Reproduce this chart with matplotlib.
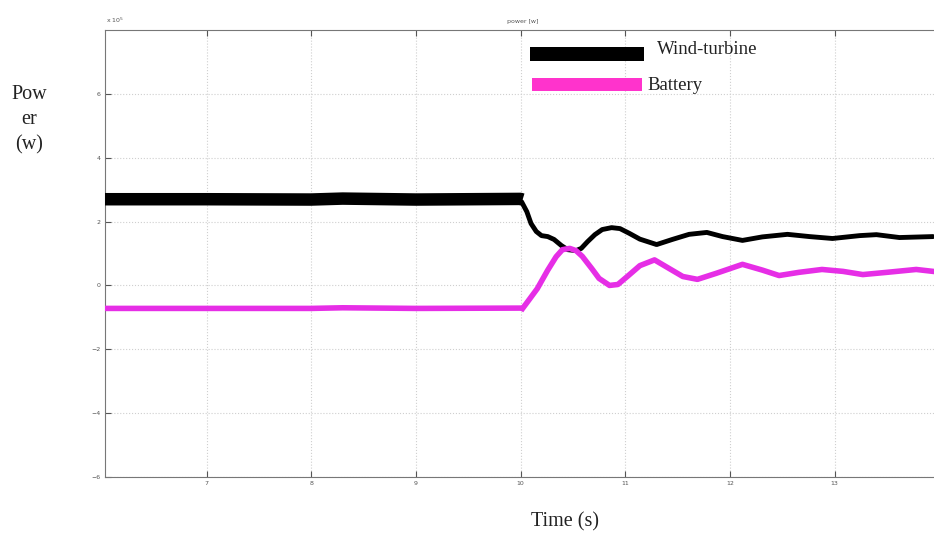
import matplotlib.pyplot as plt
import matplotlib.patches as mpatches

# Wind-turbine power (x1e5 W)
wind_steady_t = [6.03, 7.0, 8.0, 8.3, 9.0, 10.0, 10.02]
wind_steady_p = [2.70, 2.70, 2.69, 2.72, 2.69, 2.71, 2.69]
wind_t = [10.01, 10.06, 10.10, 10.15, 10.20, 10.26, 10.32, 10.39, 10.45, 10.53, 10.58,
          10.64, 10.71, 10.78, 10.87, 10.95, 11.04, 11.14, 11.30, 11.45, 11.61, 11.78,
          11.93, 12.12, 12.31, 12.55, 12.76, 12.98, 13.24, 13.40, 13.62, 13.94]
wind_p = [2.62, 2.31, 1.94, 1.69, 1.56, 1.53, 1.44, 1.25, 1.12, 1.09, 1.16,
          1.37, 1.59, 1.75, 1.81, 1.78, 1.63, 1.45, 1.28, 1.44, 1.60, 1.66,
          1.53, 1.41, 1.52, 1.60, 1.53, 1.47, 1.56, 1.59, 1.50, 1.53]

# Battery power (x1e5 W)
batt_steady_t = [6.03, 7.0, 8.0, 8.3, 9.0, 10.0, 10.03]
batt_steady_p = [-0.72, -0.72, -0.72, -0.70, -0.72, -0.71, -0.72]
batt_t = [10.02, 10.07, 10.16, 10.26, 10.34, 10.40, 10.47, 10.53, 10.59, 10.68, 10.75,
          10.85, 10.93, 11.02, 11.14, 11.28, 11.42, 11.55, 11.69, 11.87, 12.12, 12.31,
          12.47, 12.66, 12.88, 13.08, 13.27, 13.50, 13.78, 13.94]
batt_p = [-0.72, -0.50, -0.10, 0.48, 0.90, 1.12, 1.16, 1.09, 0.91, 0.53, 0.22,
          0.00, 0.03, 0.28, 0.62, 0.80, 0.53, 0.28, 0.19, 0.38, 0.66, 0.48,
          0.31, 0.41, 0.50, 0.44, 0.34, 0.41, 0.50, 0.44]

x_ticks = [7, 8, 9, 10, 11, 12, 13]
y_ticks = [-6, -4, -2, 0, 2, 4, 6]

W, H = 934, 533
fig = plt.figure(figsize=(W / 100, H / 100), dpi=100)
ax = fig.add_axes([105 / W, 1 - 477 / H, 1 - 105 / W, (477 - 30) / H])

magenta = '#e62ee6'
ax.plot(wind_steady_t, wind_steady_p, color='k', linewidth=9, solid_capstyle='butt', zorder=3)
ax.plot(wind_t, wind_p, color='k', linewidth=3.5, solid_joinstyle='round',
        solid_capstyle='round', zorder=3)
ax.plot(batt_steady_t, batt_steady_p, color=magenta, linewidth=4, solid_capstyle='butt', zorder=4)
ax.plot(batt_t, batt_p, color=magenta, linewidth=4, solid_joinstyle='round', zorder=4)

ax.set_xlim(6.03, 13.95)
ax.set_ylim(-6, 8)
ax.set_xticks(x_ticks)
ax.set_yticks(y_ticks)
ax.tick_params(direction='in', length=4, width=0.8, labelsize=4.5, colors='#555555',
               top=True, right=False, pad=3)
ax.grid(True, linestyle=':', color='#cfcfcf', linewidth=0.8)
for side in ['left', 'bottom', 'top']:
    ax.spines[side].set_color('#777777')
ax.spines['right'].set_visible(False)

# small matlab-like annotations
fig.text(106 / W, 1 - 20 / H, r'x 10$^5$', fontsize=4.5, color='#555555', ha='left', va='center')
fig.text(523 / W, 1 - 21 / H, 'power [w]', fontsize=4.5, color='#555555', ha='center', va='center')

# legend drawn by hand like the reference
fig.patches.append(mpatches.Rectangle((530 / W, 1 - 61 / H), 114 / W, 14 / H,
                                      facecolor='k', edgecolor='none', transform=fig.transFigure))
fig.patches.append(mpatches.Rectangle((532 / W, 1 - 91 / H), 110 / W, 13 / H,
                                      facecolor='#ff33cc', edgecolor='none', transform=fig.transFigure))
fig.text(657 / W, 1 - 50 / H, 'Wind-turbine', family='Liberation Serif', fontsize=13.5,
         color='#222222', ha='left', va='center')
fig.text(647 / W, 1 - 86 / H, 'Battery', family='Liberation Serif', fontsize=13.5,
         color='#222222', ha='left', va='center')

# axis labels
fig.text(29 / W, 1 - 120 / H, 'Pow\ner\n(w)', family='Liberation Serif', fontsize=14.5,
         color='#222222', ha='center', va='center', linespacing=1.45)
fig.text(565 / W, 1 - 522 / H, 'Time (s)', family='Liberation Serif', fontsize=14.5,
         color='#222222', ha='center', va='center')

fig.savefig('out.png', dpi=100)
